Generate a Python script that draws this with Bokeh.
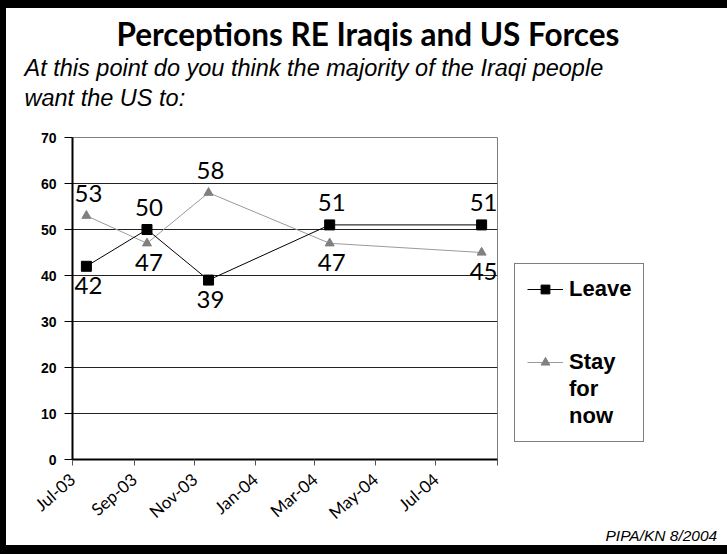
import datetime as dt
from bokeh.plotting import figure
from bokeh.models import (ColumnDataSource, FixedTicker, LabelSet, Legend,
                          LegendItem, Range1d, Title)
from bokeh.core.properties import value
from bokeh.embed import file_html
from bokeh.resources import INLINE

# ---------------- data ----------------
title_text = "Perceptions RE Iraqis and US Forces"
subtitle_lines = ["At this point do you think the majority of the Iraqi people",
                  "want the US to:"]
footer_text = "PIPA/KN 8/2004"

survey_dates = ["2003-07-15", "2003-09-14", "2003-11-15", "2004-03-16", "2004-08-16"]
leave = [42, 50, 39, 51, 51]
stay = [53, 47, 58, 47, 45]
leave_name = "Leave"
stay_name_lines = ["Stay", "for", "now"]
leave_label_side = ["below", "above", "below", "above", "above"]
stay_label_side = ["above", "below", "above", "below", "below"]

tick_dates = ["2003-07-01", "2003-09-01", "2003-11-01", "2004-01-01",
              "2004-03-01", "2004-05-01", "2004-07-01", "2004-09-01"]
tick_labels = ["Jul-03", "Sep-03", "Nov-03", "Jan-04", "Mar-04", "May-04", "Jul-04", ""]
y_ticks = [0, 10, 20, 30, 40, 50, 60, 70]

EPOCH = dt.datetime(1970, 1, 1)


def ms(s):
    return (dt.datetime.strptime(s, "%Y-%m-%d") - EPOCH).total_seconds() * 1000.0


x_vals = [ms(d) for d in survey_dates]
tick_ms = [ms(d) for d in tick_dates]

# ---------------- figure ----------------
p = figure(frame_width=425, frame_height=322, x_axis_type="datetime",
           x_range=Range1d(tick_ms[0], tick_ms[-1]), y_range=Range1d(0, 70),
           output_backend="svg", toolbar_location=None,
           min_border_left=66, min_border_right=230, min_border_top=129,
           min_border_bottom=86,
           background_fill_color="white", border_fill_color="white")
p.styles = {"border-left": "6px solid black", "border-top": "8px solid black",
            "border-bottom": "9px solid black"}

p.outline_line_color = "#808080"
p.outline_line_width = 1

# axes
p.xaxis.ticker = FixedTicker(ticks=tick_ms)
p.xaxis.major_label_overrides = {t: lab for t, lab in zip(tick_ms, tick_labels)}
p.xaxis.major_label_orientation = 0.72
p.xaxis.major_label_text_font = "Lato"
p.xaxis.major_label_text_font_size = "17px"
p.xaxis.major_label_text_color = "black"
p.xaxis.major_label_standoff = 11
p.xaxis.axis_line_width = 2
p.xaxis.axis_line_color = "black"
p.xaxis.major_tick_out = 6
p.xaxis.major_tick_in = 0
p.xaxis.major_tick_line_color = "#555555"
p.xaxis.minor_tick_line_color = None

p.yaxis.ticker = FixedTicker(ticks=y_ticks)
p.yaxis.major_label_text_font = "Liberation Sans"
p.yaxis.major_label_text_font_style = "bold"
p.yaxis.major_label_text_font_size = "14px"
p.yaxis.major_label_text_color = "black"
p.yaxis.major_label_standoff = 8
p.yaxis.axis_line_width = 2
p.yaxis.axis_line_color = "black"
p.yaxis.major_tick_out = 8
p.yaxis.major_tick_in = 0
p.yaxis.major_tick_line_color = "black"
p.yaxis.minor_tick_line_color = None

p.xgrid.grid_line_color = None
p.ygrid.ticker = FixedTicker(ticks=y_ticks)
p.ygrid.grid_line_color = "#222222"
p.ygrid.grid_line_width = 1

# series
src_leave = ColumnDataSource(dict(x=x_vals, y=leave))
src_stay = ColumnDataSource(dict(x=x_vals, y=stay))

r_stay_line = p.line("x", "y", source=src_stay, line_color="#9a9a9a", line_width=1)
r_stay_pts = p.scatter("x", "y", source=src_stay, marker="triangle", size=9,
                       fill_color="#808080", line_color="#808080")
r_leave_line = p.line("x", "y", source=src_leave, line_color="black", line_width=1)
r_leave_pts = p.scatter("x", "y", source=src_leave, marker="square", size=10,
                        fill_color="black", line_color="black")
# invisible renderer used only to hold text-only legend rows
r_blank = p.line("x", "y", source=src_stay, line_alpha=0)

# data labels
OFFS = {"above": 22, "below": -19}
for vals, sides in ((leave, leave_label_side), (stay, stay_label_side)):
    lsrc = ColumnDataSource(dict(x=x_vals, y=vals, t=[str(v) for v in vals],
                                 off=[OFFS[s] for s in sides]))
    p.add_layout(LabelSet(x="x", y="y", text="t", source=lsrc, y_offset="off",
                          x_offset=2,
                          text_align="center", text_baseline="middle",
                          text_font=value("Lato"), text_font_size=value("24px"),
                          text_color="black"))

# series legend (right side panel)
items = [LegendItem(label=leave_name, renderers=[r_leave_line, r_leave_pts]),
         LegendItem(label=" ", renderers=[r_blank]),
         LegendItem(label=" ", renderers=[r_blank]),
         LegendItem(label=stay_name_lines[0], renderers=[r_stay_line, r_stay_pts]),
         LegendItem(label=stay_name_lines[1], renderers=[r_blank]),
         LegendItem(label=stay_name_lines[2], renderers=[r_blank])]
legend = Legend(items=items, location="bottom_left", margin=17)
legend.border_line_color = "black"
legend.border_line_width = 1
legend.background_fill_color = "white"
legend.background_fill_alpha = 1
legend.label_text_font = "Liberation Sans"
legend.label_text_font_style = "bold"
legend.label_text_font_size = "22px"
legend.label_text_color = "black"
legend.label_text_line_height = 1.0
legend.label_height = 22
legend.glyph_width = 36
legend.glyph_height = 22
legend.label_standoff = 6
legend.spacing = 1
legend.padding = 12
p.add_layout(legend, "right")

# titles above the plot (first added = closest to the plot; text is centred
# vertically in its own band, so a blank band gives the gap above the axes)
p.add_layout(Title(text=" ", standoff=13, text_font="Liberation Sans",
                   text_font_size="10px"), "above")
p.add_layout(Title(text=subtitle_lines[1], align="left", offset=-48, standoff=2,
                   text_font="Liberation Sans", text_font_style="italic",
                   text_font_size="23.5px", text_color="black"), "above")
p.add_layout(Title(text=subtitle_lines[0], align="left", offset=-48, standoff=2,
                   text_font="Liberation Sans", text_font_style="italic",
                   text_font_size="23.5px", text_color="black"), "above")
p.add_layout(Title(text=title_text, align="left", offset=44, standoff=-2,
                   text_font="Lato", text_font_style="bold",
                   text_font_size="31.5px", text_color="black"), "above")

# source note under the axis
p.add_layout(Title(text=footer_text, align="left", offset=533, standoff=-17,
                   text_font="Liberation Sans", text_font_style="italic",
                   text_font_size="15.5px", text_color="black"), "below")

open("out.html", "w").write(file_html(p, INLINE))
